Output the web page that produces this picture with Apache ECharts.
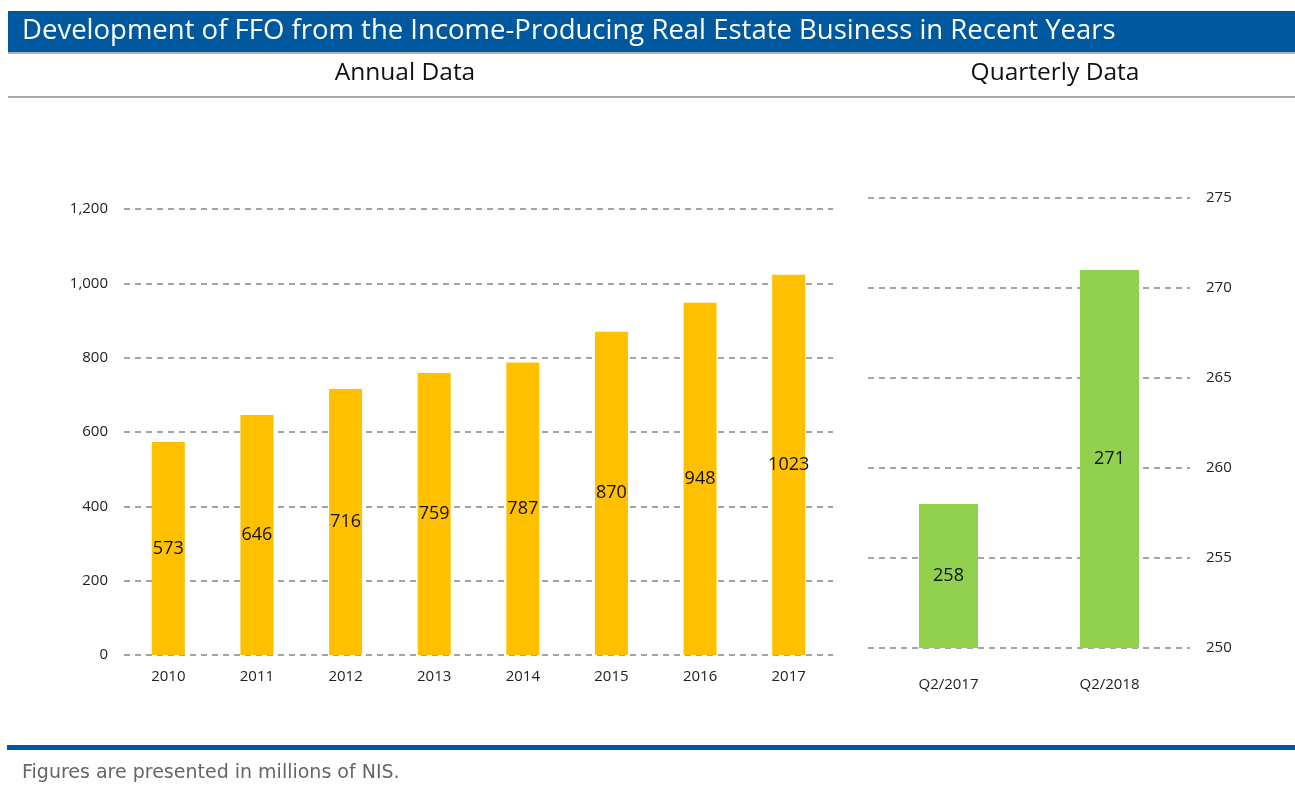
<!DOCTYPE html>
<html>
<head>
<meta charset="utf-8">
<script src="https://cdn.jsdelivr.net/npm/echarts@6/dist/echarts.min.js"></script>
<style>
html,body{margin:0;padding:0;background:#fff;}
#chart{width:1295px;height:789px;}
</style>
</head>
<body>
<div id="chart"></div>
<script>
const titleText = 'Development of FFO from the Income-Producing Real Estate Business in Recent Years';
const annualHeader = 'Annual Data';
const quarterlyHeader = 'Quarterly Data';
const footnote = 'Figures are presented in millions of NIS.';

const annualCategories = ['2010', '2011', '2012', '2013', '2014', '2015', '2016', '2017'];
const annualValues = [573, 646, 716, 759, 787, 870, 948, 1023];

const quarterlyCategories = ['Q2/2017', 'Q2/2018'];
const quarterlyValues = [258, 271];

const FONT = '"Open Sans", "Noto Sans", sans-serif';
const chart = echarts.init(document.getElementById('chart'));

const gridLine = { show: true, lineStyle: { color: '#858585', type: [6, 5], width: 1.5 } };

chart.setOption({
  animation: false,
  backgroundColor: '#fff',
  textStyle: { fontFamily: FONT },
  graphic: [
    { type: 'rect', shape: { x: 8, y: 11, width: 1287, height: 41 }, style: { fill: '#00599F' } },
    { type: 'rect', shape: { x: 8, y: 52, width: 1287, height: 2 }, style: { fill: '#b0b0b0' } },
    { type: 'text', x: 22, y: 31, style: { text: titleText, fill: '#fff', font: '400 27.5px ' + FONT, verticalAlign: 'middle' } },
    { type: 'text', x: 405, y: 73, style: { text: annualHeader, fill: '#111', font: '400 24.5px ' + FONT, align: 'center', verticalAlign: 'middle' } },
    { type: 'text', x: 1055, y: 73, style: { text: quarterlyHeader, fill: '#111', font: '400 24.5px ' + FONT, align: 'center', verticalAlign: 'middle' } },
    { type: 'rect', shape: { x: 8, y: 96, width: 1287, height: 2 }, style: { fill: '#aaaaaa' } },
    { type: 'rect', shape: { x: 7, y: 745, width: 1288, height: 5 }, style: { fill: '#00599F' } },
    { type: 'text', x: 22, y: 773, style: { text: footnote, fill: '#666', font: '400 19px "DejaVu Sans", sans-serif', verticalAlign: 'middle' } }
  ],
  grid: [
    { left: 124, width: 709, top: 209, height: 446 },
    { left: 868, width: 322, top: 198, height: 450 }
  ],
  xAxis: [
    { type: 'category', gridIndex: 0, data: annualCategories,
      axisLine: { show: false }, axisTick: { show: false },
      axisLabel: { color: '#222', fontSize: 15, margin: 14, fontFamily: FONT } },
    { type: 'category', gridIndex: 1, data: quarterlyCategories,
      axisLine: { show: false }, axisTick: { show: false },
      axisLabel: { color: '#222', fontSize: 15, margin: 29, fontFamily: FONT } }
  ],
  yAxis: [
    { type: 'value', gridIndex: 0, min: 0, max: 1200, interval: 200,
      axisLine: { show: false }, axisTick: { show: false },
      axisLabel: { color: '#222', fontSize: 15, margin: 16, fontFamily: FONT,
        formatter: v => v.toLocaleString('en-US') },
      splitLine: gridLine },
    { type: 'value', gridIndex: 1, min: 250, max: 275, interval: 5, position: 'right',
      axisLine: { show: false }, axisTick: { show: false },
      axisLabel: { color: '#222', fontSize: 15, margin: 16, fontFamily: FONT },
      splitLine: gridLine }
  ],
  series: [
    { type: 'bar', xAxisIndex: 0, yAxisIndex: 0, data: annualValues, barWidth: 33,
      itemStyle: { color: '#FFC000' },
      label: { show: true, position: 'inside', color: '#111', fontSize: 18, fontFamily: FONT } },
    { type: 'bar', xAxisIndex: 1, yAxisIndex: 1, data: quarterlyValues, barWidth: 59,
      itemStyle: { color: '#92D050' },
      label: { show: true, position: 'inside', color: '#111', fontSize: 18, fontFamily: FONT } }
  ]
});
</script>
</body>
</html>
